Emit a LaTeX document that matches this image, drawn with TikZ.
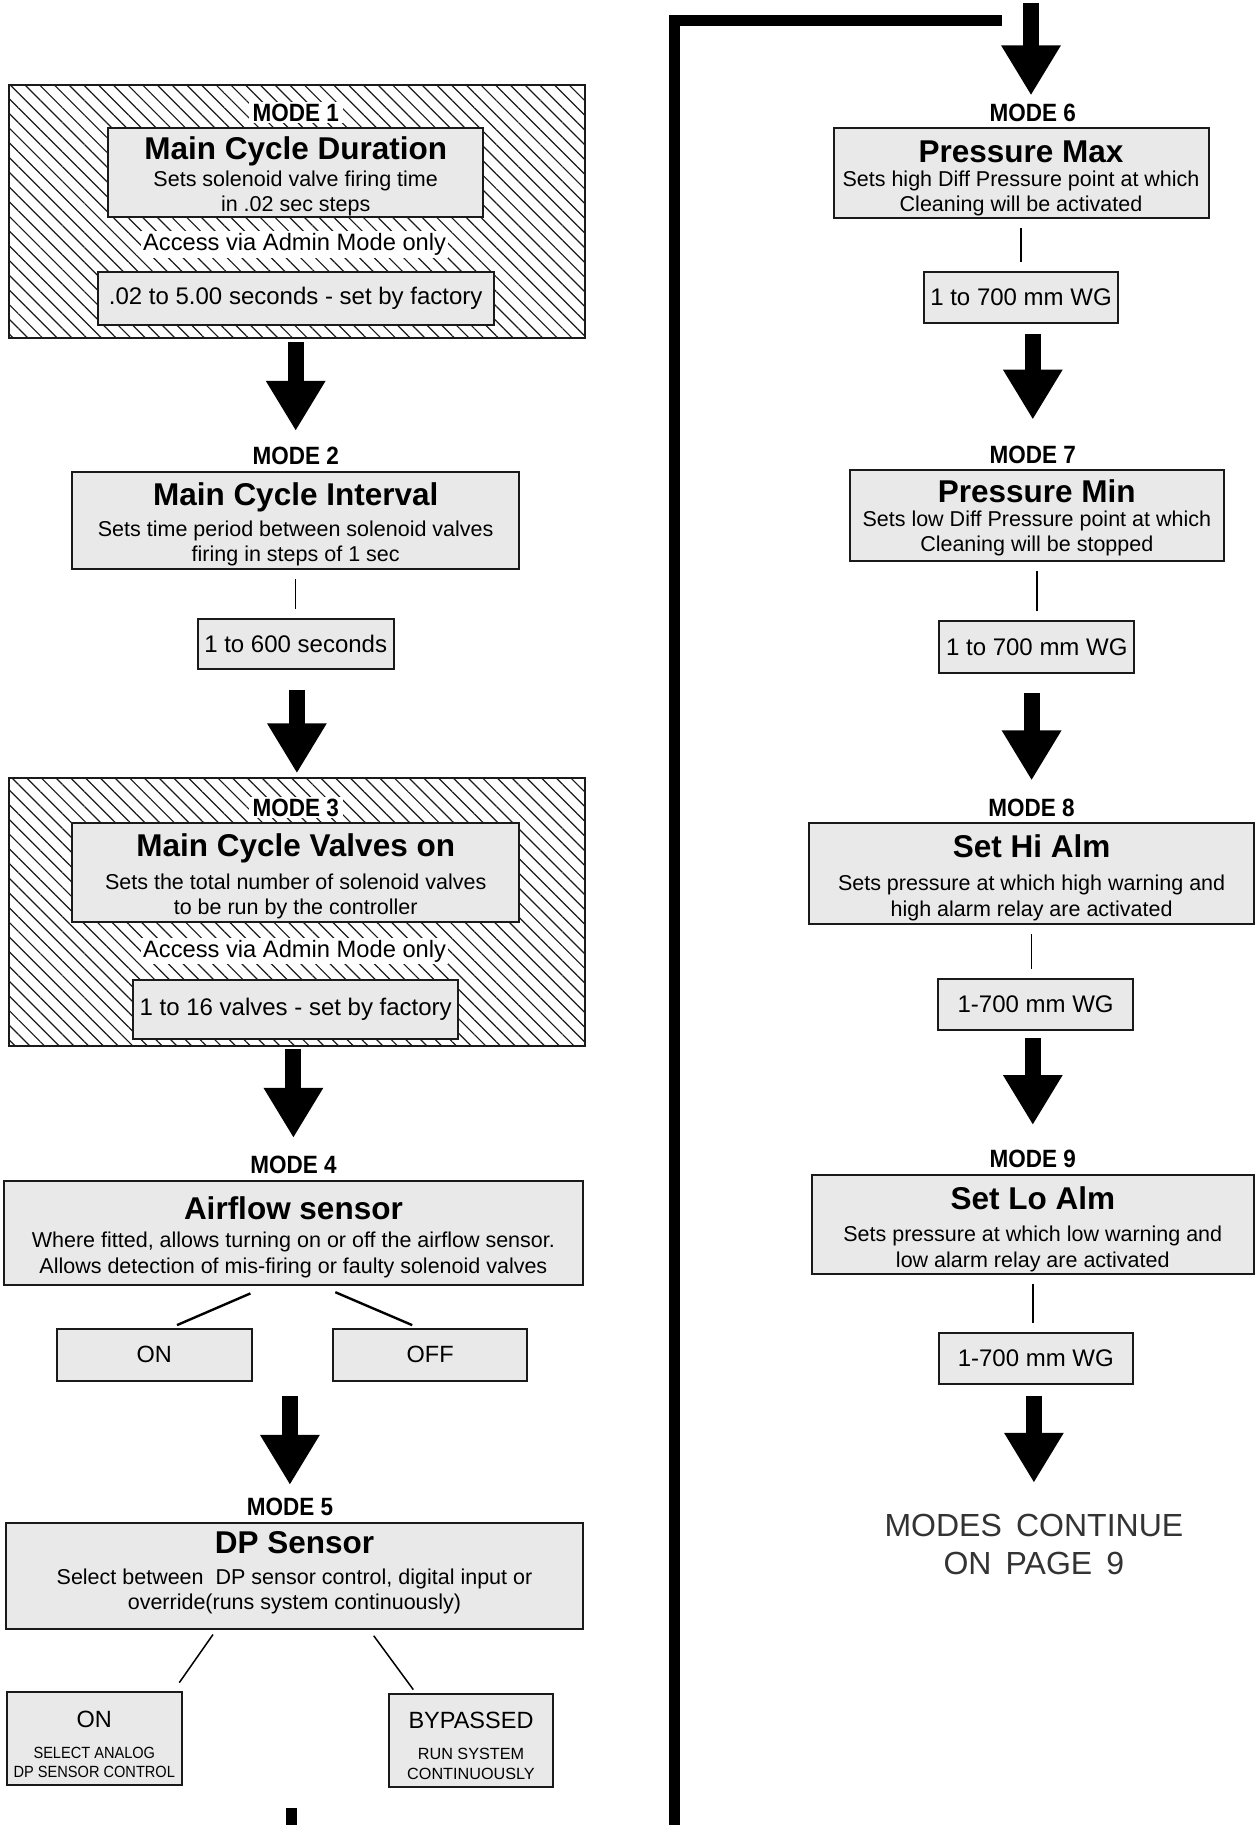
\documentclass[tikz,border=0pt]{standalone}
\usepackage{fontspec}
\setmainfont{Liberation Sans}
\newfontfamily\narrowsans[FakeStretch=0.9]{Liberation Sans}
\newfontfamily\notesans[WordSpace=1.6]{Liberation Sans}
\usetikzlibrary{positioning,arrows.meta,patterns.meta}
\definecolor{boxgrey}{HTML}{E9E9E9}
\definecolor{inkgrey}{HTML}{1A1A1A}
\definecolor{notegrey}{HTML}{333333}
\newcommand{\modetitle}[2][15.3pt]{{\fontsize{15.75}{18}\selectfont\bfseries\rule{0pt}{#1}#2}}
\newcommand{\capsnarrow}{\narrowsans\fontsize{8.1}{9.85}\selectfont}
\newcommand{\capssmall}{\fontsize{8.1}{9.85}\selectfont}

\begin{document}
\begin{tikzpicture}[
    x = 0.5pt,
    y = -0.5pt,
    node distance = 1.7pt,
    modebox/.style = {draw=inkgrey, line width=1pt, fill=boxgrey, align=center,
        inner xsep=2pt, inner ysep=0pt, font=\fontsize{10.75}{12.6}\selectfont},
    valbox/.style = {draw=inkgrey, line width=1pt, fill=boxgrey,
        minimum width=97.25pt, minimum height=25.6pt, font=\fontsize{12}{14}\selectfont},
    choicebox/.style = {draw=inkgrey, line width=1pt, fill=boxgrey, align=center,
        inner ysep=2pt, font=\fontsize{11.75}{9.85}\selectfont},
    modelabel/.style = {fill=white, inner xsep=2pt, inner ysep=1pt,
        font=\narrowsans\bfseries\fontsize{12.5}{14}\selectfont},
    adminbox/.style = {draw=inkgrey, line width=1pt, minimum width=287.6pt,
        pattern={Lines[angle=-45, distance=5.2pt, line width=0.6pt]}, pattern color=inkgrey},
    adminnote/.style = {fill=white, inner sep=1pt, font=\fontsize{11.85}{14}\selectfont},
    stem/.style = {line width=0.7pt, shorten <=4.5pt, shorten >=4.5pt},
    branch/.style = {line width=1.2pt},
    bigarrow/.style = {line width=8pt, -{Triangle[width=28pt, length=25pt]}},
    loopline/.style = {line width=5.5pt}
]
    \useasboundingbox (0,0) rectangle (1254,1825);

    % left column
    \node[adminbox, minimum height=126.3pt] (adm1) at (296.9,211.3) {};
    \node[modebox, minimum width=187.5pt, minimum height=44.25pt] (b1) at (295.7,172.4)
        {\modetitle{Main Cycle Duration}\\[1.15pt] Sets solenoid valve firing time\\ in .02 sec steps};
    \node[modelabel, above=of b1] (m1) {MODE 1};
    \node[adminnote] (acc1) at (294.6,244.5) {Access via Admin Mode only};
    \node[valbox, minimum width=198pt, minimum height=26.2pt, below=26.75pt of b1] (v1)
        {.02 to 5.00 seconds - set by factory};

    \node[modebox, minimum width=223.5pt, minimum height=48.9pt] (b2) at (295.7,520.4)
        {\modetitle{Main Cycle Interval}\\[3pt] Sets time period between solenoid valves\\ firing in steps of 1 sec};
    \node[modelabel, above=of b2] (m2) {MODE 2};
    \node[valbox, minimum height=25pt, below=23.85pt of b2] (v2) {1 to 600 seconds};

    \node[adminbox, minimum height=133.85pt] (adm3) at (296.9,911.65) {};
    \node[modebox, minimum width=223.5pt, minimum height=49.5pt] (b3) at (295.7,872.6)
        {\modetitle{Main Cycle Valves on}\\[4.1pt] Sets the total number of solenoid valves\\ to be run by the controller};
    \node[modelabel, above=of b3] (m3) {MODE 3};
    \node[adminnote] (acc3) at (294.6,951.2) {Access via Admin Mode only};
    \node[valbox, minimum width=162.4pt, minimum height=29.7pt, below=27.95pt of b3] (v3)
        {1 to 16 valves - set by factory};

    \node[modebox, minimum width=289.9pt, minimum height=52.4pt] (b4) at (293.4,1233)
        {\modetitle{Airflow sensor}\\[1.8pt] Where fitted, allows turning on or off the airflow sensor.\\ Allows detection of mis-firing or faulty solenoid valves};
    \node[modelabel, above=of b4] (m4) {MODE 4};
    \node[choicebox, minimum width=97.25pt, minimum height=26.2pt] (on4) at (154.3,1354.7) {ON};
    \node[choicebox, minimum width=97.25pt, minimum height=26.2pt] (off4) at (430.2,1354.7) {OFF};
    \draw[branch] ([xshift=-21.5pt,yshift=-3.5pt]b4.south) -- ([xshift=11.35pt,yshift=1.2pt]on4.north);
    \draw[branch] ([xshift=20.95pt,yshift=-2.9pt]b4.south) -- ([xshift=-9pt,yshift=1.2pt]off4.north);

    \node[modebox, minimum width=288.75pt, minimum height=53pt] (b5) at (294.5,1575.9)
        {\modetitle[0pt]{DP Sensor}\\[3.2pt] Select between~ DP sensor control, digital input or\\ override(runs system continuously)\rule[-5.5pt]{0pt}{5.5pt}};
    \node[modelabel, above=of b5, xshift=-2.3pt] (m5) {MODE 5};
    \node[choicebox, minimum width=86.15pt, minimum height=46.6pt] (on5) at (94.3,1738.3)
        {\rule{0pt}{14.6pt}ON\\[5.45pt] \capsnarrow SELECT ANALOG\\ \capsnarrow DP SENSOR CONTROL};
    \node[choicebox, minimum width=82.1pt, minimum height=46.6pt] (byp5) at (471,1740.6)
        {\rule{0pt}{13.4pt}BYPASSED\\[5.45pt] \capssmall RUN SYSTEM\\ \capssmall CONTINUOUSLY};
    \draw[branch, line width=0.75pt] ([xshift=-40.75pt,yshift=-2.3pt]b5.south) -- ([xshift=42.5pt,yshift=4.05pt]on5.north);
    \draw[branch, line width=0.75pt] ([xshift=39.6pt,yshift=-2.9pt]b5.south) -- ([xshift=-28.85pt,yshift=1.7pt]byp5.north);

    % right column
    \node[modebox, minimum width=187.5pt, minimum height=44.8pt] (b6) at (1021,172.9)
        {\modetitle[16.3pt]{Pressure Max}\\[-0.4pt] Sets high Diff Pressure point at which\\ Cleaning will be activated};
    \node[modelabel, above=of b6, xshift=5.85pt] (m6) {MODE 6};
    \node[valbox, below=26.2pt of b6] (v6) {1 to 700 mm WG};

    \node[modebox, minimum width=186.85pt, minimum height=45.4pt] (b7) at (1036.8,515.8)
        {\modetitle[13.3pt]{Pressure Min}\\[-0.4pt] Sets low Diff Pressure point at which\\ Cleaning will be stopped};
    \node[modelabel, above=of b7, xshift=-2pt] (m7) {MODE 7};
    \node[valbox, below=29.1pt of b7] (v7) {1 to 700 mm WG};

    \node[modebox, minimum width=222.4pt, minimum height=50.65pt] (b8) at (1031.6,873.8)
        {\modetitle{Set Hi Alm}\\[4.1pt] Sets pressure at which high warning and\\ high alarm relay are activated};
    \node[modelabel, above=of b8] (m8) {MODE 8};
    \node[valbox, below=26.15pt of b8, xshift=2pt] (v8) {1-700 mm WG};

    \node[modebox, minimum width=221.25pt, minimum height=49.5pt] (b9) at (1032.8,1224.2)
        {\modetitle[16.3pt]{Set Lo Alm}\\[3.6pt] Sets pressure at which low warning and\\ low alarm relay are activated};
    \node[modelabel, above=of b9] (m9) {MODE 9};
    \node[valbox, below=28.55pt of b9, xshift=1.5pt] (v9) {1-700 mm WG};

    \node[align=center, inner sep=1pt, text=notegrey, font=\notesans\fontsize{16}{19.2}\selectfont]
        (cont) at (1033.9,1544.4) {MODES CONTINUE\\ ON PAGE 9};

    % value stems
    \draw[stem] (b2) -- (v2);
    \draw[stem] (b6) -- (v6);
    \draw[stem] (b7) -- (v7);
    \draw[stem] (b8) -- (b8.south |- v8.north);
    \draw[stem] (b9) -- (b9.south |- v9.north);

    % big arrows
    \draw[bigarrow, shorten <=2.05pt, shorten >=6.85pt] (m2.north |- adm1.south) -- (m2.north);
    \draw[bigarrow, shorten <=10pt, shorten >=1.75pt] (adm3.north |- v2.south) -- (adm3.north);
    \draw[bigarrow, shorten <=1.2pt, shorten >=7.9pt] (m4.north |- adm3.south) -- (m4.north);
    \draw[bigarrow, shorten <=6.95pt, shorten >=5.55pt] (m5.north |- on4.south) -- (m5.north);
    \coordinate (entry) at (1031,3);
    \draw[bigarrow, shorten >=2.9pt] (entry) -- (entry |- m6.north);
    \draw[bigarrow, shorten <=4.7pt, shorten >=11.95pt] (m7.north |- v6.south) -- (m7.north);
    \draw[bigarrow, shorten <=9.9pt, shorten >=7.9pt] (m8.north |- v7.south) -- (m8.north);
    \draw[bigarrow, shorten <=3.5pt, shorten >=11.4pt] (m9.north |- v8.south) -- (m9.north);
    \draw[bigarrow, shorten <=5.25pt, shorten >=14.35pt] (cont.north |- v9.south) -- (cont.north);

    % link from mode 5 round to mode 6
    \coordinate (loopstart) at (291,1808);
    \coordinate (turn) at (674,1830);
    \coordinate (loopend) at (1002,21);
    \draw[loopline] (loopstart) |- (turn) |- (loopend);
\end{tikzpicture}
\end{document}
